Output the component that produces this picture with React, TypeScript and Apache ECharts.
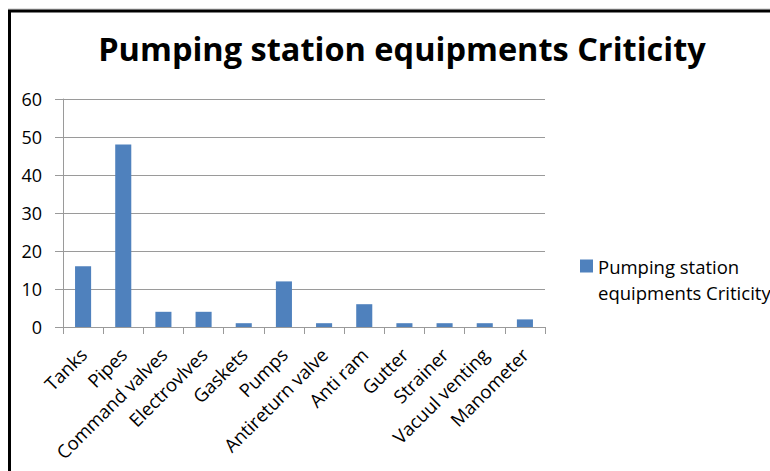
import React, { useEffect, useRef } from "react";
import * as echarts from "echarts";

// Equipment categories on the horizontal axis
const categories = [
  "Tanks",
  "Pipes",
  "Command valves",
  "Electrovlves",
  "Gaskets",
  "Pumps",
  "Antireturn valve",
  "Anti ram",
  "Gutter",
  "Strainer",
  "Vacuul venting",
  "Manometer",
];

// Criticity score per equipment
const criticity = [16, 48, 4, 4, 1, 12, 1, 6, 1, 1, 1, 2];

const seriesName = "Pumping station equipments Criticity";
const titleText = "Pumping station equipments Criticity";

// Value axis range
const yMin = 0;
const yMax = 60;
const yInterval = 10;

const BAR_COLOR = "#4F81BD";
const GRID_COLOR = "#9a9a9a";
const FONT = "'Open Sans', 'Liberation Sans', sans-serif";

export default function App() {
  const ref = useRef<HTMLDivElement>(null);

  useEffect(() => {
    if (!ref.current) return;
    const chart = echarts.init(ref.current, undefined, { renderer: "svg" });
    chart.setOption({
      animation: false,
      backgroundColor: "#ffffff",
      graphic: {
        elements: [
          {
            type: "line",
            shape: { x1: 8, y1: 9, x2: 770, y2: 9 },
            style: { stroke: "#c4c4c4", lineWidth: 1 },
            silent: true,
          },
          {
            type: "rect",
            shape: { x: 9.5, y: 11, width: 800, height: 500 },
            style: { fill: "none", stroke: "#000000", lineWidth: 3 },
            silent: true,
          },
          {
            type: "text",
            x: 402,
            y: 48,
            style: {
              text: titleText,
              align: "center",
              verticalAlign: "middle",
              fontFamily: FONT,
              fontWeight: "bold",
              fontSize: 32.5,
              fill: "#000000",
            },
          },
        ],
      },
      legend: {
        orient: "vertical",
        left: 580,
        top: 227,
        padding: 0,
        itemWidth: 13,
        itemHeight: 13,
        icon: "rect",
        data: [seriesName],
        formatter: () => "\nPumping station\nequipments Criticity",
        textStyle: {
          fontFamily: FONT,
          fontSize: 18.5,
          lineHeight: 26,
          color: "#000000",
        },
      },
      grid: {
        left: 63,
        top: 99,
        width: 482,
        height: 228,
        containLabel: false,
        outerBoundsMode: "none",
      },
      xAxis: {
        type: "category",
        data: categories,
        boundaryGap: true,
        axisLine: { show: true, lineStyle: { color: GRID_COLOR, width: 1 } },
        axisTick: {
          show: true,
          interval: 0,
          length: 7,
          alignWithLabel: false,
          lineStyle: { color: GRID_COLOR },
        },
        axisLabel: {
          interval: 0,
          rotate: 45,
          margin: 24,
          fontFamily: FONT,
          fontSize: 18.5,
          color: "#000000",
        },
        splitLine: { show: false },
      },
      yAxis: {
        type: "value",
        min: yMin,
        max: yMax,
        interval: yInterval,
        axisLine: { show: true, lineStyle: { color: GRID_COLOR, width: 1 } },
        axisTick: { show: true, length: 8, lineStyle: { color: GRID_COLOR } },
        axisLabel: {
          margin: 21,
          fontFamily: FONT,
          fontSize: 18,
          color: "#000000",
        },
        splitLine: { show: true, lineStyle: { color: GRID_COLOR, width: 1 } },
      },
      series: [
        {
          name: seriesName,
          type: "bar",
          data: criticity,
          barWidth: "40%",
          itemStyle: { color: BAR_COLOR },
        },
      ],
    });
    return () => chart.dispose();
  }, []);

  return (
    <div
      ref={ref}
      style={{ position: "absolute", left: 0, top: 0, width: 770, height: 471 }}
    />
  );
}
